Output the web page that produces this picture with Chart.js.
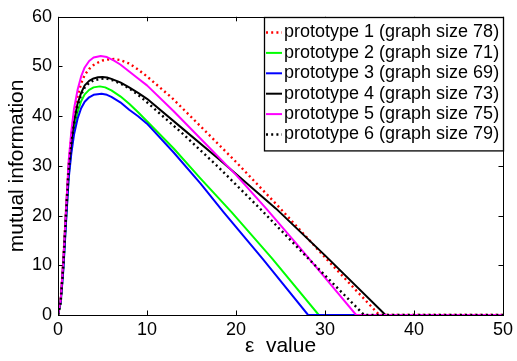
<!DOCTYPE html>
<html>
<head>
<meta charset="utf-8">
<script src="https://cdn.jsdelivr.net/npm/chart.js@4/dist/chart.umd.min.js"></script>
<style>
  html, body { margin: 0; padding: 0; background: #fff; }
  #wrap { width: 517px; height: 361px; }
</style>
</head>
<body>
<div id="wrap"><canvas id="c" width="517" height="361"></canvas></div>
<script>
// ---- data ----
const seriesLabels = [
  'prototype 1 (graph size 78)',
  'prototype 2 (graph size 71)',
  'prototype 3 (graph size 69)',
  'prototype 4 (graph size 73)',
  'prototype 5 (graph size 75)',
  'prototype 6 (graph size 79)'
];
const xTicks = [0, 10, 20, 30, 40, 50];
const yTicks = [0, 10, 20, 30, 40, 50, 60];

const eps1 = [0, 0.3, 0.6, 0.9, 1.2, 1.5, 1.8, 2.2, 2.6, 3, 3.5, 4, 4.5, 5, 5.6, 6.3, 7, 8, 9, 10, 12.8, 16, 20, 25, 30, 36.1, 50];
const mi1  = [0, 3, 11, 21, 30.5, 36, 40.3, 44, 46.6, 48.3, 49.5, 50.3, 50.8, 51.2, 51.4, 51.5, 51.3, 50.6, 49.4, 48, 43.7, 38, 30.8, 21.4, 11.6, 0, 0];

const eps2 = [0, 0.3, 0.6, 0.9, 1.2, 1.5, 1.8, 2.2, 2.6, 3, 3.5, 4, 4.7, 5.3, 6, 7, 8, 9, 10, 13, 16, 19.5, 24, 29.3, 50];
const mi2  = [0, 2.5, 9.5, 19, 28, 33.5, 37.5, 40.8, 43, 44.4, 45.3, 45.8, 46, 45.8, 45.2, 44, 42.5, 40.8, 39, 33.5, 27.5, 20.7, 11.5, 0, 0];

const eps3 = [0, 0.3, 0.6, 0.9, 1.2, 1.5, 1.8, 2.2, 2.6, 3, 3.5, 4, 4.9, 5.5, 6, 7, 8, 9, 10, 13, 16, 18.6, 23, 28.1, 50];
const mi3  = [0, 2.5, 9, 18.5, 27.5, 32.5, 36.3, 39.5, 41.6, 42.9, 43.8, 44.3, 44.5, 44.3, 43.9, 42.8, 41.3, 40, 38.5, 32.7, 26.5, 20.7, 11.3, 0, 0];

const eps4 = [0, 0.3, 0.6, 0.9, 1.2, 1.5, 1.8, 2.2, 2.6, 3, 3.5, 4, 4.5, 5, 5.5, 6, 7, 8, 9, 10, 14, 18, 24.5, 30, 36.8, 50];
const mi4  = [0, 3, 11, 21, 30, 35, 39, 42.5, 44.7, 46.2, 47.1, 47.6, 47.85, 47.9, 47.8, 47.5, 46.8, 45.8, 44.7, 43.5, 37.5, 31.5, 21.4, 12, 0, 0];

const eps5 = [0, 0.3, 0.6, 0.9, 1.2, 1.5, 1.8, 2.2, 2.6, 3, 3.5, 4, 4.8, 5.5, 6.3, 7, 8, 9, 10, 13, 16, 20, 23.4, 27, 30, 33.5, 50];
const mi5  = [0, 3, 11, 21, 31, 37, 41.5, 45.3, 48, 49.8, 51.1, 51.8, 52.1, 51.9, 51.2, 50.4, 49, 47.6, 46.2, 41, 35.5, 28.2, 21.4, 13.9, 7.5, 0, 0];

const eps6 = [0, 0.3, 0.6, 0.9, 1.2, 1.5, 1.8, 2.2, 2.6, 3, 3.5, 4, 4.7, 5.4, 6.2, 7, 8, 9, 10, 14, 18, 22.7, 28, 34.4, 50];
const mi6  = [0, 2.5, 10, 20, 29, 34.5, 38.5, 42, 44.3, 45.8, 46.7, 47.2, 47.5, 47.6, 47.2, 46.6, 45.6, 44.3, 42.8, 36.5, 29.8, 21.4, 11.6, 0, 0];

const seriesEps = [eps1, eps2, eps3, eps4, eps5, eps6];
const seriesMi  = [mi1, mi2, mi3, mi4, mi5, mi6];
const seriesColors = ['#ff0000', '#00ff00', '#0000ff', '#000000', '#ff00ff', '#000000'];
const seriesDashed = [true, false, false, false, false, true];

// ---- chart ----
const FONT = '"Liberation Sans", Arial, Helvetica, sans-serif';

const datasets = seriesLabels.map((lab, i) => ({
  label: lab,
  data: seriesEps[i].map((x, k) => ({ x: x, y: seriesMi[i][k] })),
  borderColor: seriesColors[i],
  backgroundColor: seriesColors[i],
  borderWidth: seriesDashed[i] ? 2.4 : 2,
  borderDash: seriesDashed[i] ? [2, 3.2] : [],
  borderJoinStyle: 'round',
  pointRadius: 0,
  fill: false,
  tension: 0,
  order: 6 - i
}));

const boxPlugin = {
  id: 'matlabBox',
  afterDatasetsDraw(chart) {
    const ctx = chart.ctx;
    const a = chart.chartArea;
    const xs = chart.scales.x, ys = chart.scales.y;
    ctx.save();
    ctx.strokeStyle = '#000';
    ctx.lineWidth = 1;
    const tl = 4.5;
    ctx.beginPath();
    xTicks.forEach(v => {
      const px = Math.round(xs.getPixelForValue(v)) + 0.5;
      ctx.moveTo(px, a.bottom); ctx.lineTo(px, a.bottom - tl);
      ctx.moveTo(px, a.top); ctx.lineTo(px, a.top + tl);
    });
    yTicks.forEach(v => {
      const py = Math.round(ys.getPixelForValue(v)) + 0.5;
      ctx.moveTo(a.left, py); ctx.lineTo(a.left + tl, py);
      ctx.moveTo(a.right, py); ctx.lineTo(a.right - tl, py);
    });
    ctx.stroke();
    ctx.strokeRect(Math.round(a.left) + 0.5, Math.round(a.top) + 0.5,
                   Math.round(a.right - a.left), Math.round(a.bottom - a.top));
    ctx.restore();
  },
  afterDraw(chart) {
    // legend box inside the axes, top-right
    const ctx = chart.ctx;
    const a = chart.chartArea;
    ctx.save();
    ctx.font = '18px ' + FONT;
    let tw = 0;
    chart.data.datasets.forEach(d => { tw = Math.max(tw, ctx.measureText(d.label).width); });
    const sampleL = 16, gap = 2, padL = 1.5, padR = 5;
    const w = padL + sampleL + gap + tw + padR;
    const rowH = 20.4;
    const h = chart.data.datasets.length * rowH + 11;
    const right = Math.round(a.right) + 0.5;
    const top = Math.round(a.top) + 0.5;
    const left = Math.round(right - w) + 0.5;
    ctx.fillStyle = '#fff';
    ctx.fillRect(left, top, right - left, h);
    ctx.strokeStyle = '#000';
    ctx.lineWidth = 1.3;
    ctx.strokeRect(left, top, right - left, h);
    chart.data.datasets.forEach((d, i) => {
      const cy = top + 15 + i * rowH;
      ctx.beginPath();
      ctx.strokeStyle = d.borderColor;
      ctx.lineWidth = d.borderWidth;
      ctx.setLineDash(d.borderDash || []);
      ctx.moveTo(left + padL, cy);
      ctx.lineTo(left + padL + sampleL, cy);
      ctx.stroke();
      ctx.setLineDash([]);
      ctx.fillStyle = '#000';
      ctx.textBaseline = 'middle';
      ctx.textAlign = 'left';
      ctx.fillText(d.label, left + padL + sampleL + gap, cy);
    });
    ctx.restore();
  }
};

new Chart(document.getElementById('c'), {
  type: 'line',
  data: { datasets: datasets },
  options: {
    responsive: false,
    animation: false,
    devicePixelRatio: 1,
    layout: { padding: { top: 10, right: 10, left: 0, bottom: 0 } },
    plugins: { legend: { display: false }, tooltip: { enabled: false } },
    scales: {
      x: {
        type: 'linear',
        min: 0, max: 50,
        afterBuildTicks: s => { s.ticks = xTicks.map(v => ({ value: v })); },
        afterFit: s => { s.height = 46; },
        grid: { display: false, drawTicks: false },
        border: { display: false },
        ticks: { color: '#000', font: { family: FONT, size: 18 }, padding: 4, maxRotation: 0 },
        title: { display: true, text: 'ε  value', color: '#000',
                 font: { family: FONT, size: 21 }, padding: { top: 0, bottom: 1.8 } }
      },
      y: {
        type: 'linear',
        min: 0, max: 60,
        afterBuildTicks: s => { s.ticks = yTicks.map(v => ({ value: v })); },
        afterFit: s => { s.width = 58; },
        grid: { display: false, drawTicks: false },
        border: { display: false },
        ticks: { color: '#000', font: { family: FONT, size: 18 }, padding: 6 },
        title: { display: true, text: 'mutual information', color: '#000',
                 font: { family: FONT, size: 21 }, padding: { top: 5, bottom: 0 } }
      }
    }
  },
  plugins: [boxPlugin]
});
</script>
</body>
</html>
